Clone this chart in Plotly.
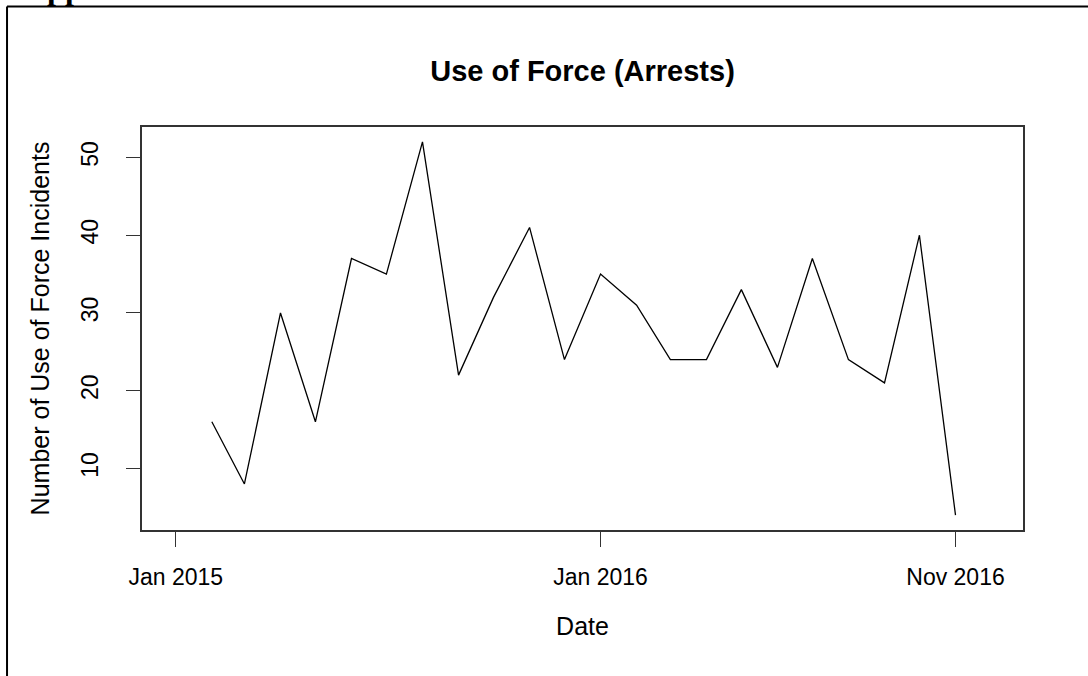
"""
Monthly use of force incidents during arrests, redrawn from the R base plot.
"""

import plotly.graph_objects as go

# Monthly counts, Feb 2015 .. Nov 2016
months = ['2015-02-01', '2015-03-01', '2015-04-01', '2015-05-01',
          '2015-06-01', '2015-07-01', '2015-08-01', '2015-09-01',
          '2015-10-01', '2015-11-01', '2015-12-01', '2016-01-01',
          '2016-02-01', '2016-03-01', '2016-04-01', '2016-05-01',
          '2016-06-01', '2016-07-01', '2016-08-01', '2016-09-01',
          '2016-10-01', '2016-11-01']
incidents = [16, 8, 30, 16, 37, 35, 52, 22, 32, 41, 24,
             35, 31, 24, 24, 33, 23, 37, 24, 21, 40, 4]

x_tickvals = ['2015-01-01', '2016-01-01', '2016-11-01']
x_ticktext = ['Jan 2015', 'Jan 2016', 'Nov 2016']
y_tickvals = [10, 20, 30, 40, 50]

FONT = 'Liberation Sans, Arial, sans-serif'
BOX = '#333333'

fig = go.Figure(go.Scatter(
    x=months,
    y=incidents,
    mode='lines',
    line={'color': 'black', 'width': 1.3},
    showlegend=False))

fig.update_layout(
    width=1088,
    height=676,
    margin={'l': 142, 'r': 65, 't': 127, 'b': 146},
    paper_bgcolor='white',
    plot_bgcolor='white',
    font={'family': FONT, 'size': 20.5, 'color': 'black'},
    title={'text': '<b>Use of Force (Arrests)</b>',
           'x': 0.5, 'xref': 'paper', 'xanchor': 'center',
           'y': 1 - 71 / 676, 'yanchor': 'middle',
           'font': {'size': 29, 'family': FONT}},
    xaxis={'type': 'date',
           'range': ['2014-12-03', '2016-12-29'],
           'tickvals': x_tickvals,
           'ticktext': x_ticktext,
           'tickfont': {'size': 23},
           'ticks': 'outside', 'ticklen': 15, 'tickwidth': 1.3,
           'tickcolor': BOX,
           'ticklabelstandoff': 11,
           'showgrid': False, 'zeroline': False,
           'showline': True, 'mirror': True,
           'linecolor': BOX, 'linewidth': 1.5,
           'title': {'text': 'Date', 'standoff': 28}},
    yaxis={'range': [2.08, 53.92],
           'tickvals': y_tickvals,
           'tickangle': -90,
           'tickfont': {'size': 23},
           'ticks': 'outside', 'ticklen': 14, 'tickwidth': 1.3,
           'tickcolor': BOX,
           'ticklabelstandoff': 19,
           'showgrid': False, 'zeroline': False,
           'showline': True, 'mirror': True,
           'linecolor': BOX, 'linewidth': 1.5,
           'title': {'text': 'Number of Use of Force Incidents',
                     'standoff': 20}},
)

# Frame of the page the chart was cut from
fig.add_shape(type='line', xref='paper', yref='paper',
              x0=-0.1532, x1=1.2, y0=1.2990, y1=1.2990,
              line={'color': 'black', 'width': 2})
fig.add_shape(type='line', xref='paper', yref='paper',
              x0=-0.1532, x1=-0.1532, y0=1.2990, y1=-0.5,
              line={'color': 'black', 'width': 2})

# Heading above the frame, only its descenders are in view
fig.add_annotation(text='<b>Appendix</b>', xref='paper', yref='paper',
                   x=(22 - 142) / 881, xanchor='left',
                   y=(530 - 8) / 403, yanchor='bottom',
                   showarrow=False,
                   font={'family': 'Liberation Serif, Times New Roman, serif',
                         'size': 32, 'color': 'black'})

fig.write_html('out.html',
               config={'displayModeBar': False},
               post_script="document.body.style.margin = '0';")
